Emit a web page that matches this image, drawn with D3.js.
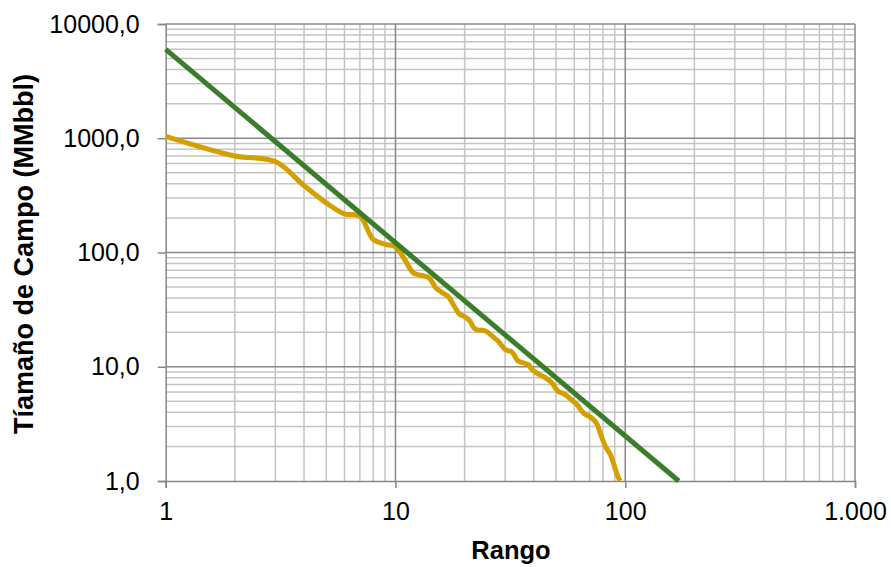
<!DOCTYPE html>
<html>
<head>
<meta charset="utf-8">
<script src="https://cdn.jsdelivr.net/npm/d3@7"></script>
<style>
  body { margin: 0; background: #fff; }
  text { font-family: "Liberation Sans", Arial, sans-serif; }
</style>
</head>
<body>
<div id="chart"></div>
<script>
// field sizes ranked
var ranks = [1, 2, 3, 4, 5, 6, 7, 8, 9, 10, 11, 12, 13, 14, 15, 16, 17, 18, 19, 20,
    21, 22, 23, 24, 25, 26, 27, 28, 29, 30, 31, 32, 33, 34, 35, 38, 39, 42, 45, 48,
    51, 54, 58, 62, 66, 71, 75, 78, 82, 86, 89, 92, 95];
var sizes = [1040, 700, 625, 385, 272, 218, 208, 130, 118, 112, 86, 66, 63, 60, 49, 44.5, 41, 34, 28.8, 27.5,
    25.4, 21.8, 20.9, 20.9, 20.3, 19, 17.8, 16.8, 15.3, 14.2, 13.8, 13.6, 12.5, 11.3, 11.0, 10.4, 9.6, 8.6, 8.0, 7.2,
    6.1, 5.8, 5.2, 4.6, 3.9, 3.6, 3.2, 2.6, 2.0, 1.72, 1.42, 1.15, 1.0];

// power trend line
var trendRanks = [1, 171];
var trendSizes = [6000, 1];

var xTicks = [1, 10, 100, 1000];
var xTickLabels = ["1", "10", "100", "1.000"];
var yTicks = [1, 10, 100, 1000, 10000];
var yTickLabels = ["1,0", "10,0", "100,0", "1000,0", "10000,0"];

var svgWidth = 891;
var svgHeight = 567;

var margin = {t: 24, r: 36, b: 86, l: 165.7};
var width = svgWidth - margin.l - margin.r;
var height = svgHeight - margin.t - margin.b;

var svg = d3.select("#chart")
    .append("svg")
    .attr("width", svgWidth)
    .attr("height", svgHeight);

var chartGroup = svg.append("g")
    .attr("transform", `translate(${margin.l}, ${margin.t})`);

var x = d3.scaleLog().domain([1, 1000]).range([0, width]);
var y = d3.scaleLog().domain([1, 10000]).range([height, 0]);

// minor + major grid values
var xMinor = [], yMinor = [];
[1, 10, 100].forEach(function(d) {
    for (var k = 2; k <= 9; k++) xMinor.push(d * k);
});
[1, 10, 100, 1000].forEach(function(d) {
    for (var k = 2; k <= 9; k++) yMinor.push(d * k);
});

var grid = chartGroup.append("g");
grid.selectAll(".xminor").data(xMinor).enter().append("line")
    .attr("x1", d => x(d)).attr("x2", d => x(d))
    .attr("y1", 0).attr("y2", height)
    .attr("stroke", "#c4c4c4").attr("stroke-width", 1.5);
grid.selectAll(".yminor").data(yMinor).enter().append("line")
    .attr("x1", 0).attr("x2", width)
    .attr("y1", d => y(d)).attr("y2", d => y(d))
    .attr("stroke", "#c4c4c4").attr("stroke-width", 1.5);
grid.selectAll(".xmajor").data(xTicks.slice(1)).enter().append("line")
    .attr("x1", d => x(d)).attr("x2", d => x(d))
    .attr("y1", 0).attr("y2", height)
    .attr("stroke", "#888").attr("stroke-width", 1.5);
grid.selectAll(".ymajor").data(yTicks.slice(1)).enter().append("line")
    .attr("x1", 0).attr("x2", width)
    .attr("y1", d => y(d)).attr("y2", d => y(d))
    .attr("stroke", "#888").attr("stroke-width", 1.5);

// axes
var bottomAxis = d3.axisBottom(x).tickValues(xTicks)
    .tickFormat((d, i) => xTickLabels[i]).tickSize(7).tickPadding(14);
var leftAxis = d3.axisLeft(y).tickValues(yTicks)
    .tickFormat((d, i) => yTickLabels[i]).tickSize(8).tickPadding(18);

var xAxisG = chartGroup.append("g")
    .attr("transform", `translate(0, ${height})`)
    .call(bottomAxis);
var yAxisG = chartGroup.append("g")
    .call(leftAxis);

[xAxisG, yAxisG].forEach(function(g) {
    g.select(".domain").attr("stroke", "#888").attr("stroke-width", 1.5);
    g.selectAll(".tick line").attr("stroke", "#888").attr("stroke-width", 1.5);
    g.selectAll(".tick text")
        .attr("font-family", "Liberation Sans, Arial, sans-serif")
        .attr("font-size", "25px")
        .attr("fill", "#000");
});

// lines
var line = d3.line()
    .x(d => x(d[0]))
    .y(d => y(d[1]))
    .curve(d3.curveCatmullRom.alpha(0.5));

chartGroup.append("path")
    .datum(ranks.map((r, i) => [r, sizes[i]]))
    .attr("d", line)
    .attr("fill", "none")
    .attr("stroke", "#d4a000")
    .attr("stroke-width", 5)
    .attr("stroke-linejoin", "round");

chartGroup.append("path")
    .datum(trendRanks.map((r, i) => [r, trendSizes[i]]))
    .attr("d", d3.line().x(d => x(d[0])).y(d => y(d[1])))
    .attr("fill", "none")
    .attr("stroke", "#3a7d2a")
    .attr("stroke-width", 5);

// axis titles
svg.append("text")
    .attr("transform", "translate(33, 254) rotate(-90)")
    .attr("text-anchor", "middle")
    .attr("font-size", "27px")
    .attr("font-weight", "bold")
    .text("Tíamaño de Campo (MMbbl)");

svg.append("text")
    .attr("x", 511)
    .attr("y", 559)
    .attr("text-anchor", "middle")
    .attr("font-size", "25.5px")
    .attr("font-weight", "bold")
    .text("Rango");
</script>
</body>
</html>
